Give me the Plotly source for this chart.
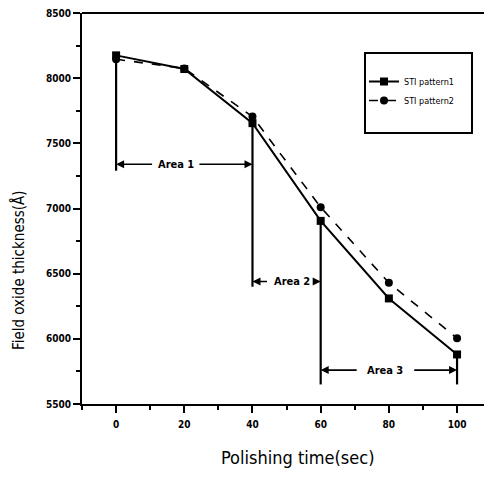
import plotly.graph_objects as go

# ---- data ----
time_sec = [0, 20, 40, 60, 80, 100]
sti_pattern1 = [8175, 8070, 7655, 6905, 6310, 5880]
sti_pattern2 = [8145, 8075, 7705, 7010, 6430, 6005]
series_names = ["STI pattern1", "STI pattern2"]

area_names = ["Area 1", "Area 2", "Area 3"]
area_start = [0, 40, 60]
area_end = [40, 60, 100]
area_level = [7340, 6440, 5760]
area_text_x = [17.5, 51.5, 79.0]
area_text_halfgap = [6.5, 6.8, 8.0]

# boundary lines: x, top value, bottom value
bound_x = [0, 40, 60, 100]
bound_top = [8175, 7655, 6905, 5880]
bound_bottom = [7290, 6400, 5650, 5650]

y_ticks = [5500, 6000, 6500, 7000, 7500, 8000, 8500]
x_ticks = [0, 20, 40, 60, 80, 100]

x_title = "Polishing time(sec)"
y_title = "Field oxide thickness(Å)"

FONT = "Liberation Sans Narrow, DejaVu Sans Condensed, Liberation Sans, sans-serif"

W, H = 476, 477
ML, MR, MT, MB = 74, 0, 5, 81
PW, PH = W - ML - MR, H - MT - MB


def px_to_paper(px, py):
    return (px - ML) / PW, 1 - (py - MT) / PH


fig = go.Figure()
fig.add_trace(go.Scatter(
    x=time_sec, y=sti_pattern1, name=series_names[0], mode="lines+markers",
    line=dict(color="black", width=2),
    marker=dict(symbol="square", size=8, color="black"),
    cliponaxis=False,
))
fig.add_trace(go.Scatter(
    x=time_sec, y=sti_pattern2, name=series_names[1], mode="lines+markers",
    line=dict(color="black", width=1.6, dash="dash"),
    marker=dict(symbol="circle", size=8, color="black"),
    cliponaxis=False,
))

# vertical boundary lines
for bx, bt, bb in zip(bound_x, bound_top, bound_bottom):
    fig.add_shape(type="line", x0=bx, x1=bx, y0=bb, y1=bt, xref="x", yref="y",
                  line=dict(color="black", width=2.2))

# area arrows and labels
for name, s, e, lvl, tx, hg in zip(area_names, area_start, area_end, area_level,
                                     area_text_x, area_text_halfgap):
    fig.add_annotation(x=s, y=lvl, ax=tx - hg, ay=lvl, xref="x", yref="y",
                       axref="x", ayref="y", text="", showarrow=True,
                       arrowhead=2, arrowsize=1, arrowwidth=1.6, arrowcolor="black")
    fig.add_annotation(x=e, y=lvl, ax=tx + hg, ay=lvl, xref="x", yref="y",
                       axref="x", ayref="y", text="", showarrow=True,
                       arrowhead=2, arrowsize=1, arrowwidth=1.6, arrowcolor="black")
    fig.add_annotation(x=tx, y=lvl, xref="x", yref="y", text="<b>" + name + "</b>",
                       showarrow=False, font=dict(family=FONT, size=11, color="black"))

# top frame line
fig.add_shape(type="line", xref="paper", yref="paper", x0=0, x1=1, y0=1, y1=1,
              line=dict(color="black", width=2), layer="above")

# legend frame
lx0, ly1 = px_to_paper(357, 45)
lx1, ly0 = px_to_paper(464, 125)
fig.add_shape(type="rect", xref="paper", yref="paper", x0=lx0, x1=lx1,
              y0=ly0, y1=ly1, line=dict(color="black", width=2), fillcolor="white",
              layer="below")

# axis titles
tx_, ty_ = px_to_paper(289, 449)
fig.add_annotation(x=tx_, y=ty_, xref="paper", yref="paper", text=x_title,
                   showarrow=False, xanchor="center", yanchor="middle",
                   font=dict(family=FONT, size=18, color="black"))
tx_, ty_ = px_to_paper(10, 262)
fig.add_annotation(x=tx_, y=ty_, xref="paper", yref="paper", text=y_title,
                   showarrow=False, textangle=-90, xanchor="center", yanchor="middle",
                   font=dict(family=FONT, size=15, color="black"))

legx, legy = px_to_paper(356, 59)
fig.update_layout(
    width=W, height=H,
    margin=dict(l=ML, r=MR, t=MT, b=MB),
    paper_bgcolor="white", plot_bgcolor="white",
    font=dict(family=FONT, color="black"),
    legend=dict(x=legx, y=legy, xanchor="left", yanchor="top",
                bgcolor="rgba(0,0,0,0)", borderwidth=0,
                font=dict(family=FONT, size=9, color="black"),
                itemwidth=30, tracegroupgap=3),
    showlegend=True,
)
fig.update_xaxes(
    range=[-10, 107.9], tickvals=x_ticks, ticktext=[f"<b>{v}</b>" for v in x_ticks],
    ticks="outside", ticklen=7, tickwidth=2, tickcolor="black", ticklabelstandoff=3,
    ticklabeloverflow="allow",
    minor=dict(ticks="outside", ticklen=4, tickwidth=1.5, dtick=10, tick0=0, tickcolor="black"),
    showline=True, linecolor="black", linewidth=2, mirror=False,
    showgrid=False, zeroline=False, automargin=False,
    tickfont=dict(family=FONT, size=10, color="black"),
)
fig.update_yaxes(
    range=[5500, 8500], tickvals=y_ticks, ticktext=[f"<b>{v}</b>" for v in y_ticks],
    ticks="outside", ticklen=7, tickwidth=2, tickcolor="black",
    ticklabeloverflow="allow",
    minor=dict(ticks="outside", ticklen=4, tickwidth=1.5, dtick=250, tick0=5500, tickcolor="black"),
    showline=True, linecolor="black", linewidth=2, mirror=False,
    showgrid=False, zeroline=False, automargin=False,
    tickfont=dict(family=FONT, size=10, color="black"),
)

fig.write_html("out.html")
